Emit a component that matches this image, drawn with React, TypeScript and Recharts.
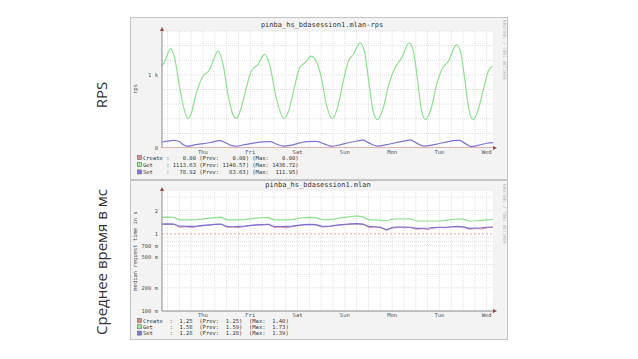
import React from 'react';
import { LineChart, Line, XAxis, YAxis, ReferenceLine } from 'recharts';

// ---- shared x axis (hours since start of the week window) ----
const dayLabels = ['Thu', 'Fri', 'Sat', 'Sun', 'Mon', 'Tue', 'Wed'];
const dayTickHours = [20.8, 44.8, 68.8, 92.8, 116.8, 140.8, 164.8];
const gridHours = Array.from({ length: 28 }, (_, k) => 2.8 + 6 * k);

// ---- RPS graph ----
const getTimes = [0, 1.4, 4.4, 6.4, 9, 11.5, 13.2, 14.9, 17.4, 20.8, 24.2, 25.9, 28.4, 31, 33.5, 36, 37.7, 39.9, 42.8, 45.3, 48.7, 52.1, 54.6, 58, 61.9, 64.8, 67.3, 69.9, 72.4, 75.8, 78.3, 80.9, 83.4, 86.4, 89.5, 92, 94.6, 97.1, 100.5, 102.7, 104.7, 107.2, 109.5, 112.3, 114.9, 118.3, 121.7, 125.4, 127.6, 129.8, 131.8, 133.8, 136.9, 139.4, 142, 145.3, 149.6, 151.8, 153.8, 155.8, 158, 160.5, 163.1, 165.6, 167.8];
const getRps = [1119, 1187, 1360, 1233, 822, 502, 402, 479, 753, 982, 1073, 1187, 1324, 1141, 731, 457, 402, 525, 822, 1050, 1141, 1279, 1141, 685, 402, 548, 845, 1096, 1164, 1256, 1187, 959, 600, 402, 594, 913, 1187, 1279, 1438, 1324, 959, 502, 388, 548, 845, 1096, 1233, 1438, 1324, 913, 502, 388, 571, 868, 1073, 1187, 1415, 1279, 913, 525, 388, 525, 799, 1050, 1119];
const setTimes = [0, 3, 6, 9, 11, 13, 17, 21, 25, 29, 32, 35, 37.5, 42, 47, 51, 55, 58, 61.5, 66, 70, 74, 78, 82, 86, 90, 95, 100, 102, 105, 109, 114, 119, 124, 126, 129, 133, 138, 143, 148, 151, 154, 157, 161, 165, 168];
const setRps = [82, 95, 105, 85, 40, 25, 45, 60, 75, 100, 75, 35, 25, 45, 70, 85, 88, 55, 25, 40, 70, 88, 90, 60, 25, 40, 75, 100, 110, 70, 25, 45, 75, 100, 112, 70, 25, 45, 75, 100, 105, 60, 20, 40, 65, 73];
const createTimes = [0, 168];
const createRps = [0, 0];
const rpsTicks = [0, 1000];
const rpsGrid = [200, 400, 600, 800, 1000, 1200, 1400, 1600];

// ---- median request time graph (seconds, log scale) ----
const latHours = [0, 3, 6, 9, 12, 15, 18, 21, 24, 27, 30, 33, 36, 39, 42, 45, 48, 51, 54, 57, 60, 63, 66, 69, 72, 75, 78, 81, 84, 87, 90, 93, 96, 99, 102, 105, 108, 111, 114, 117, 120, 123, 126, 129, 132, 135, 138, 141, 144, 147, 150, 153, 156, 159, 162, 165, 168];
const latGet = [1.64, 1.65, 1.64, 1.52, 1.52, 1.52, 1.53, 1.57, 1.60, 1.63, 1.65, 1.52, 1.52, 1.52, 1.53, 1.57, 1.60, 1.62, 1.64, 1.52, 1.52, 1.52, 1.53, 1.58, 1.63, 1.64, 1.63, 1.53, 1.52, 1.55, 1.60, 1.64, 1.68, 1.71, 1.66, 1.52, 1.52, 1.50, 1.48, 1.55, 1.56, 1.57, 1.57, 1.47, 1.47, 1.47, 1.47, 1.47, 1.50, 1.53, 1.56, 1.55, 1.47, 1.48, 1.50, 1.52, 1.54];
const latSet = [1.34, 1.35, 1.34, 1.26, 1.25, 1.25, 1.26, 1.29, 1.31, 1.33, 1.34, 1.25, 1.24, 1.25, 1.26, 1.29, 1.31, 1.32, 1.33, 1.25, 1.24, 1.25, 1.26, 1.29, 1.32, 1.33, 1.32, 1.26, 1.25, 1.28, 1.31, 1.33, 1.35, 1.36, 1.34, 1.25, 1.24, 1.22, 1.13, 1.22, 1.23, 1.23, 1.22, 1.18, 1.18, 1.19, 1.21, 1.22, 1.22, 1.24, 1.25, 1.24, 1.18, 1.19, 1.20, 1.22, 1.23];
const latCreate = [1.33, 1.34, 1.33, 1.22, 1.24, 1.21, 1.25, 1.28, 1.30, 1.33, 1.33, 1.22, 1.23, 1.21, 1.25, 1.28, 1.30, 1.31, 1.33, 1.21, 1.23, 1.20, 1.24, 1.28, 1.31, 1.32, 1.31, 1.23, 1.24, 1.27, 1.30, 1.32, 1.34, 1.35, 1.33, 1.21, 1.23, 1.20, 1.12, 1.19, 1.22, 1.20, 1.21, 1.15, 1.17, 1.14, 1.19, 1.21, 1.20, 1.23, 1.24, 1.22, 1.15, 1.17, 1.16, 1.20, 1.22];
const latTicks = [0.1, 0.2, 0.5, 0.7, 1, 2];
const latGrid = [0.2, 0.3, 0.4, 0.5, 0.6, 0.7, 0.8, 0.9, 2, 3];

// ---- legends ----
const rpsLegend = [
  'Create :    0.00 (Prev:    0.00) (Max:    0.00)',
  'Get    : 1113.63 (Prev: 1140.57) (Max: 1436.72)',
  'Set    :   78.92 (Prev:   83.63) (Max:  111.95)',
];
const latLegend = [
  'Create  :  1.25  (Prev:  1.25)  (Max:  1.40)',
  'Get     :  1.58  (Prev:  1.59)  (Max:  1.73)',
  'Set     :  1.28  (Prev:  1.28)  (Max:  1.39)',
];

const C_CREATE = '#c46a6a';
const C_CREATE2 = '#e07fa0';
const C_GET = '#8be28b';
const C_SET = '#7a72d8';
const swatches = ['#d98c8c', '#98e898', '#7c78dc'];

const zip = (xs: number[], ys: number[]) => xs.map((h, i) => ({ h, v: ys[i] }));
const getData = zip(getTimes, getRps);
const setData = zip(setTimes, setRps);
const createData = zip(createTimes, createRps);
const latData = latHours.map((h, i) => ({ h, get: latGet[i], set: latSet[i], create: latCreate[i] }));

const MONO = 'DejaVu Sans Mono, monospace';
const tickStyle = { fontSize: 5.5, fill: '#555', fontFamily: MONO };
const dayFmt = (v: number) => {
  const i = dayTickHours.findIndex((d) => Math.abs(d - v) < 0.01);
  return i >= 0 ? dayLabels[i] : '';
};
const latFmt = (v: number) => (v >= 1 ? String(v) : `${Math.round(v * 1000)}\u00a0m`);

const gridStroke = '#e0e0e0';

export default function App() {
  const box: React.CSSProperties = {
    position: 'absolute',
    left: 130,
    width: 378,
    background: '#f3f3f3',
    boxSizing: 'border-box',
    border: '1px solid #c4c4c4',
  };
  return (
    <div style={{ position: 'absolute', left: 0, top: 0, width: 638, height: 359, background: '#fff', overflow: 'hidden' }}>
      <div style={{ ...box, top: 17, height: 163 }} />
      <div style={{ ...box, top: 180, height: 160 }} />

      {/* plot backgrounds */}
      <div style={{ position: 'absolute', left: 162, top: 31, width: 331, height: 117, background: '#fff' }} />
      <div style={{ position: 'absolute', left: 162, top: 191, width: 331, height: 120, background: '#fff' }} />

      <div style={{ position: 'absolute', left: 130, top: 17 }}>
        <LineChart width={378} height={163} margin={{ top: 14, right: 15, bottom: 0, left: 0 }}>
          <XAxis
            type="number"
            dataKey="h"
            domain={[0, 168]}
            ticks={dayTickHours}
            tickFormatter={dayFmt}
            interval={0}
            height={32}
            axisLine={false}
            tickLine={false}
            tickSize={2}
            tickMargin={0}
            tick={tickStyle}
            allowDuplicatedCategory={false}
          />
          <YAxis
            type="number"
            domain={[0, 1600]}
            ticks={rpsTicks}
            tickFormatter={(v: number) => (v >= 1000 ? `${v / 1000}\u00a0k` : String(v))}
            width={32}
            axisLine={{ stroke: '#8a8a8a' }}
            tickLine={false}
            tickSize={4}
            tickMargin={0}
            tick={tickStyle}
            allowDataOverflow
          />
          {gridHours.map((h) => (
            <ReferenceLine key={'v' + h} x={h} stroke={gridStroke} strokeDasharray="1 1" />
          ))}
          {rpsGrid.map((y) => (
            <ReferenceLine key={'h' + y} y={y} stroke={gridStroke} strokeDasharray="1 1" />
          ))}
          <Line data={getData} dataKey="v" type="monotone" stroke={C_GET} strokeWidth={1.2} dot={false} isAnimationActive={false} />
          <Line data={setData} dataKey="v" type="monotone" stroke={C_SET} strokeWidth={1.2} dot={false} isAnimationActive={false} />
          <Line data={createData} dataKey="v" type="linear" stroke={C_CREATE} strokeWidth={1.2} dot={false} isAnimationActive={false} />
        </LineChart>
      </div>

      <div style={{ position: 'absolute', left: 130, top: 180 }}>
        <LineChart width={378} height={160} data={latData} margin={{ top: 11, right: 15, bottom: 0, left: 0 }}>
          <XAxis
            type="number"
            dataKey="h"
            domain={[0, 168]}
            ticks={dayTickHours}
            tickFormatter={dayFmt}
            interval={0}
            height={29}
            axisLine={{ stroke: '#8a8a8a' }}
            tickLine={false}
            tickSize={2}
            tickMargin={0}
            tick={tickStyle}
          />
          <YAxis
            type="number"
            scale="log"
            domain={[0.1, 3.6]}
            ticks={latTicks}
            tickFormatter={latFmt}
            width={32}
            axisLine={{ stroke: '#8a8a8a' }}
            tickLine={false}
            tickSize={4}
            tickMargin={0}
            tick={tickStyle}
            allowDataOverflow
          />
          {gridHours.map((h) => (
            <ReferenceLine key={'v' + h} x={h} stroke={gridStroke} strokeDasharray="1 1" />
          ))}
          {latGrid.map((y) => (
            <ReferenceLine key={'h' + y} y={y} stroke={gridStroke} strokeDasharray="1 1" />
          ))}
          <ReferenceLine y={1} stroke="#eaa0a0" strokeDasharray="2 2" />
          <Line dataKey="get" type="linear" stroke={C_GET} strokeWidth={1.2} dot={false} isAnimationActive={false} />
          <Line dataKey="create" type="linear" stroke={C_CREATE2} strokeWidth={1} dot={false} isAnimationActive={false} />
          <Line dataKey="set" type="linear" stroke={C_SET} strokeWidth={1.1} dot={false} isAnimationActive={false} />
        </LineChart>
      </div>

      <svg width={638} height={359} style={{ position: 'absolute', left: 0, top: 0, pointerEvents: 'none' }}>
        {/* side labels */}
        <text transform="translate(101,95) rotate(-90)" textAnchor="middle" dominantBaseline="central" fontFamily="Open Sans, sans-serif" fontSize={15} fill="#333">RPS</text>
        <text transform="translate(101,262) rotate(-90)" textAnchor="middle" dominantBaseline="central" fontFamily="Open Sans, sans-serif" fontSize={15} fill="#333">Среднее время в мс</text>

        {/* titles */}
        <text x={322} y={27} textAnchor="middle" fontFamily={MONO} fontSize={7} fill="#333">pinba_hs_bdasession1.mlan-rps</text>
        <text x={318} y={187} textAnchor="middle" fontFamily={MONO} fontSize={7} fill="#333">pinba_hs_bdasession1.mlan</text>

        {/* y axis titles */}
        <text transform="translate(135,89) rotate(-90)" textAnchor="middle" dominantBaseline="central" fontFamily={MONO} fontSize={5.5} fill="#555">rps</text>
        <text transform="translate(135,251) rotate(-90)" textAnchor="middle" dominantBaseline="central" fontFamily={MONO} fontSize={5.5} fill="#555">median request time in s</text>

        {/* rrdtool watermark */}
        <text transform="translate(503,20) rotate(90)" fontFamily={MONO} fontSize={4.5} fill="#b8b8b8">RRDTOOL / TOBI OETIKER</text>
        <text transform="translate(503,184) rotate(90)" fontFamily={MONO} fontSize={4.5} fill="#b8b8b8">RRDTOOL / TOBI OETIKER</text>

        {/* axis arrows */}
        <path d="M160,31 L162,27 L164,31 Z" fill="#a04040" />
        <path d="M493,146 L497,148 L493,150 Z" fill="#a04040" />
        <path d="M160,191 L162,187 L164,191 Z" fill="#a04040" />
        <path d="M493,309 L497,311 L493,313 Z" fill="#a04040" />

        {/* legends */}
        {rpsLegend.map((t, i) => (
          <g key={'rl' + i}>
            <rect x={137.5} y={155.5 + i * 7.2} width={4} height={4} fill={swatches[i]} stroke="#555" strokeWidth={0.5} />
            <text x={143} y={159.5 + i * 7.2} fontFamily={MONO} fontSize={5.5} fill="#333" xmlSpace="preserve" style={{ whiteSpace: 'pre' }}>{t}</text>
          </g>
        ))}
        {latLegend.map((t, i) => (
          <g key={'ll' + i}>
            <rect x={137.5} y={318.5 + i * 6.3} width={4} height={4} fill={swatches[i]} stroke="#555" strokeWidth={0.5} />
            <text x={143} y={322.5 + i * 6.3} fontFamily={MONO} fontSize={5.5} fill="#333" xmlSpace="preserve" style={{ whiteSpace: 'pre' }}>{t}</text>
          </g>
        ))}
      </svg>
    </div>
  );
}
